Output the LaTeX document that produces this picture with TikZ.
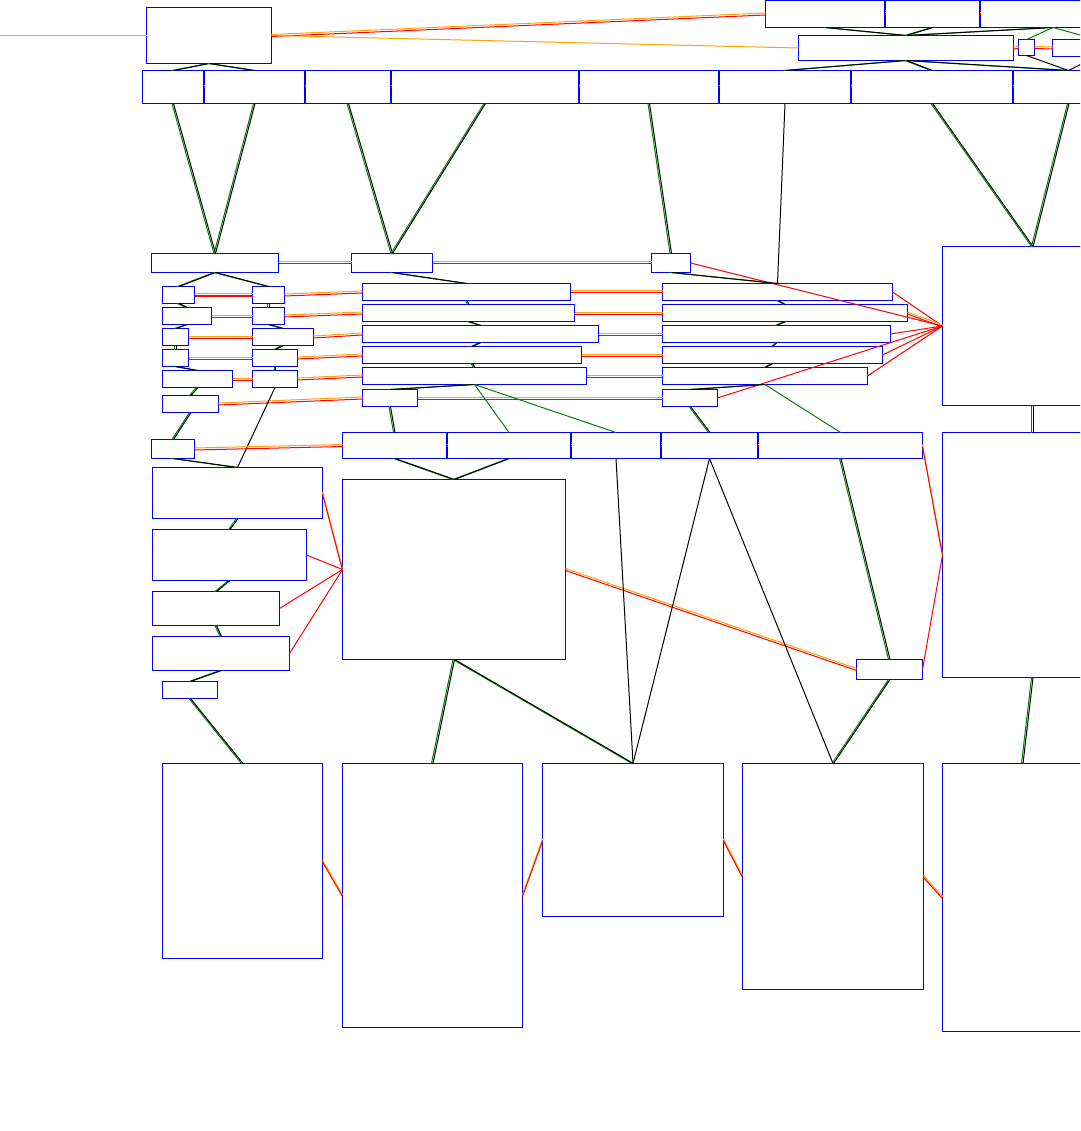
\documentclass[tikz,border=0pt]{standalone}
\usetikzlibrary{calc}
\definecolor{bxblue}{RGB}{0,0,255}
\definecolor{cnorange}{RGB}{255,165,0}
\definecolor{cnred}{RGB}{255,0,0}
\definecolor{cngreen}{RGB}{0,128,0}
\tikzset{
  boxst/.style={draw=bxblue, line width=1pt, fill=none, inner sep=0pt, outer sep=0pt, rectangle, anchor=north west},
  oline/.style={draw=cnorange, line width=1pt, transform canvas={yshift=1pt}},
  rline/.style={draw=cnred, line width=1pt, transform canvas={yshift=-1pt}},
  gline/.style={draw=cngreen, line width=1pt, transform canvas={xshift=-1pt}},
  kline/.style={draw=black, line width=1pt, transform canvas={xshift=.5pt}},
  redone/.style={draw=cnred, line width=1pt},
  orone/.style={draw=cnorange, line width=1pt},
  greenone/.style={draw=cngreen, line width=1pt},
  blackone/.style={draw=black, line width=1pt},
}
\newcommand\bx[5]{\node[boxst, minimum width={#4-#2}, minimum height={#5-#3}] (#1) at (#2,#3) {};}
\newcommand\ORl[2]{\draw[oline] (#1) -- (#2); \draw[rline] (#1) -- (#2);}
\newcommand\GKl[2]{\draw[gline] (#1) -- (#2); \draw[kline] (#1) -- (#2);}
\begin{document}
\begin{tikzpicture}[x=1pt,y=-1pt]
\useasboundingbox (0,0) rectangle (1080,1131);
\clip (0,0) rectangle (1080,1131);
\begin{scope}[shift={(0.5,0.5)}]
% ---------- top ----------
\bx{A}{146}{7}{271}{63}
\bx{T1}{765}{0}{884}{27}
\bx{T2}{885}{0}{979}{27}
\bx{T3}{980}{0}{1125}{27}
\bx{U}{798}{35}{1013}{60}
\bx{Us}{1018}{39}{1034}{55}
\bx{Ub}{1052}{39}{1140}{56}
\bx{r1}{142}{70}{203}{103}
\bx{r2}{204}{70}{304}{103}
\bx{r3}{305}{70}{390}{103}
\bx{r4}{391}{70}{578}{103}
\bx{r5}{579}{70}{718}{103}
\bx{r6}{719}{70}{850}{103}
\bx{r7}{851}{70}{1012}{103}
\bx{r8}{1013}{70}{1123}{103}
\coordinate (lft) at (-5,35);
% ---------- middle ----------
\bx{B1}{151}{253}{278}{272}
\bx{B2}{351}{253}{432}{272}
\bx{B3}{651}{253}{690}{272}
\bx{R1}{942}{246}{1122}{405}
\bx{a1}{162}{286}{194}{303}
\bx{a2}{162}{307}{211}{324}
\bx{a3}{162}{328}{188}{345}
\bx{a4}{162}{349}{188}{366}
\bx{a5}{162}{370}{232}{387}
\bx{a6}{162}{395}{218}{412}
\bx{b1}{252}{286}{284}{303}
\bx{b2}{252}{307}{284}{324}
\bx{b3}{252}{328}{313}{345}
\bx{b4}{252}{349}{297}{366}
\bx{b5}{252}{370}{297}{387}
\bx{c1}{362}{283}{570}{300}
\bx{c2}{362}{304}{574}{321}
\bx{c3}{362}{325}{598}{342}
\bx{c4}{362}{346}{581}{363}
\bx{c5}{362}{367}{586}{384}
\bx{c6}{362}{389}{417}{406}
\bx{d1}{662}{283}{892}{300}
\bx{d2}{662}{304}{907}{321}
\bx{d3}{662}{325}{890}{342}
\bx{d4}{662}{346}{882}{363}
\bx{d5}{662}{367}{867}{384}
\bx{d6}{662}{389}{717}{406}
\bx{Q1}{342}{432}{446}{458}
\bx{Q2}{447}{432}{570}{458}
\bx{Q3}{571}{432}{660}{458}
\bx{Q4}{661}{432}{757}{458}
\bx{Q5}{758}{432}{922}{458}
\bx{D1}{151}{439}{194}{458}
\bx{L1}{152}{467}{322}{518}
\bx{L2}{152}{529}{306}{580}
\bx{L3}{152}{591}{279}{625}
\bx{L4}{152}{636}{289}{670}
\bx{L5}{162}{681}{217}{698}
\bx{M}{342}{479}{565}{659}
\bx{S}{856}{659}{922}{679}
\bx{R2}{942}{432}{1122}{677}
% ---------- bottom ----------
\bx{X1}{162}{763}{322}{958}
\bx{X2}{342}{763}{522}{1027}
\bx{X3}{542}{763}{723}{916}
\bx{X4}{742}{763}{923}{989}
\bx{X5}{942}{763}{1102}{1031}
% ---------- connectors: top ----------
\draw[orone] (lft) -- (A.west);
\ORl{A.east}{T1.west}
\draw[orone] (A.east) -- (U.west);
\ORl{U.east}{Us.west}
\ORl{Us.east}{Ub.west}
\ORl{T1.east}{T2.west}
\ORl{T2.east}{T3.west}
\ORl{r1.east}{r2.west}
\ORl{r2.east}{r3.west}
\ORl{r3.east}{r4.west}
\ORl{r4.east}{r5.west}
\ORl{r5.east}{r6.west}
\ORl{r6.east}{r7.west}
\ORl{r7.east}{r8.west}
\GKl{A.south}{r1.north}
\GKl{A.south}{r2.north}
\GKl{U.north}{T1.south}
\GKl{U.north}{T2.south}
\GKl{U.north}{T3.south}
\draw[greenone] (T3.south) -- (Us.north);
\draw[greenone] (T3.south) -- (Ub.north);
\GKl{U.south}{r6.north}
\GKl{U.south}{r7.north}
\GKl{U.south}{r8.north}
\draw[blackone] (Us.south) -- (r8.north);
\draw[blackone] (Ub.south) -- (r8.north);
% ---------- connectors: row to middle ----------
\GKl{r1.south}{B1.north}
\GKl{r2.south}{B1.north}
\GKl{r3.south}{B2.north}
\GKl{r4.south}{B2.north}
\GKl{r5.south}{B3.north}
\draw[blackone] (r6.south) -- (d1.north);
\GKl{r7.south}{R1.north}
\GKl{r8.south}{R1.north}
% ---------- middle horizontal ----------
\ORl{B1.east}{B2.west}
\ORl{B2.east}{B3.west}
\ORl{a1.east}{b1.west}
\ORl{a2.east}{b2.west}
\ORl{a3.east}{b3.west}
\ORl{a4.east}{b4.west}
\ORl{a5.east}{b5.west}
\ORl{b1.east}{c1.west}
\ORl{b2.east}{c2.west}
\ORl{b3.east}{c3.west}
\ORl{b4.east}{c4.west}
\ORl{b5.east}{c5.west}
\ORl{a6.east}{c6.west}
\ORl{c1.east}{d1.west}
\ORl{c2.east}{d2.west}
\ORl{c3.east}{d3.west}
\ORl{c4.east}{d4.west}
\ORl{c5.east}{d5.west}
\ORl{c6.east}{d6.west}
\draw[redone] (B3.east) -- (R1.west);
\draw[redone] (d1.east) -- (R1.west);
\ORl{d2.east}{R1.west}
\draw[redone] (d3.east) -- (R1.west);
\draw[redone] (d4.east) -- (R1.west);
\draw[redone] (d5.east) -- (R1.west);
\draw[redone] (d6.east) -- (R1.west);
% ---------- middle trees ----------
\GKl{B1.south}{a1.north}
\GKl{B1.south}{b1.north}
\GKl{a1.south}{a2.north}
\GKl{a2.south}{a3.north}
\GKl{a3.south}{a4.north}
\GKl{a4.south}{a5.north}
\GKl{a5.south}{a6.north}
\GKl{a6.south}{D1.north}
\GKl{b1.south}{b2.north}
\GKl{b2.south}{b3.north}
\GKl{b3.south}{b4.north}
\GKl{b4.south}{b5.north}
\draw[blackone] (b5.south) -- (L1.north);
\GKl{B2.south}{c1.north}
\GKl{c1.south}{c2.north}
\GKl{c2.south}{c3.north}
\GKl{c3.south}{c4.north}
\GKl{c4.south}{c5.north}
\GKl{c5.south}{c6.north}
\draw[greenone] (c5.south) -- (Q2.north);
\draw[greenone] (c5.south) -- (Q3.north);
\GKl{B3.south}{d1.north}
\GKl{d1.south}{d2.north}
\GKl{d2.south}{d3.north}
\GKl{d3.south}{d4.north}
\GKl{d4.south}{d5.north}
\GKl{d5.south}{d6.north}
\draw[greenone] (d5.south) -- (Q5.north);
\GKl{c6.south}{Q1.north}
\GKl{d6.south}{Q4.north}
% ---------- Q row ----------
\ORl{Q1.east}{Q2.west}
\ORl{Q2.east}{Q3.west}
\ORl{Q3.east}{Q4.west}
\ORl{Q4.east}{Q5.west}
\ORl{D1.east}{Q1.west}
\GKl{D1.south}{L1.north}
\GKl{Q1.south}{M.north}
\GKl{Q2.south}{M.north}
\GKl{L1.south}{L2.north}
\GKl{L2.south}{L3.north}
\GKl{L3.south}{L4.north}
\GKl{L4.south}{L5.north}
\GKl{L5.south}{X1.north}
\ORl{L1.east}{M.west}
\draw[redone] (L2.east) -- (M.west);
\draw[redone] (L3.east) -- (M.west);
\draw[redone] (L4.east) -- (M.west);
\ORl{M.east}{S.west}
\GKl{Q5.south}{S.north}
\GKl{S.south}{X4.north}
\draw[redone] (S.east) -- (R2.west);
\ORl{Q5.east}{R2.west}
\GKl{R1.south}{R2.north}
\GKl{R2.south}{X5.north}
\draw[blackone] (Q3.south) -- (X3.north);
\draw[blackone] (Q4.south) -- (X3.north);
\draw[blackone] (Q4.south) -- (X4.north);
\GKl{M.south}{X2.north}
\GKl{M.south}{X3.north}
% ---------- bottom ----------
\ORl{X1.east}{X2.west}
\ORl{X2.east}{X3.west}
\ORl{X3.east}{X4.west}
\ORl{X4.east}{X5.west}
\end{scope}
\end{tikzpicture}
\end{document}
